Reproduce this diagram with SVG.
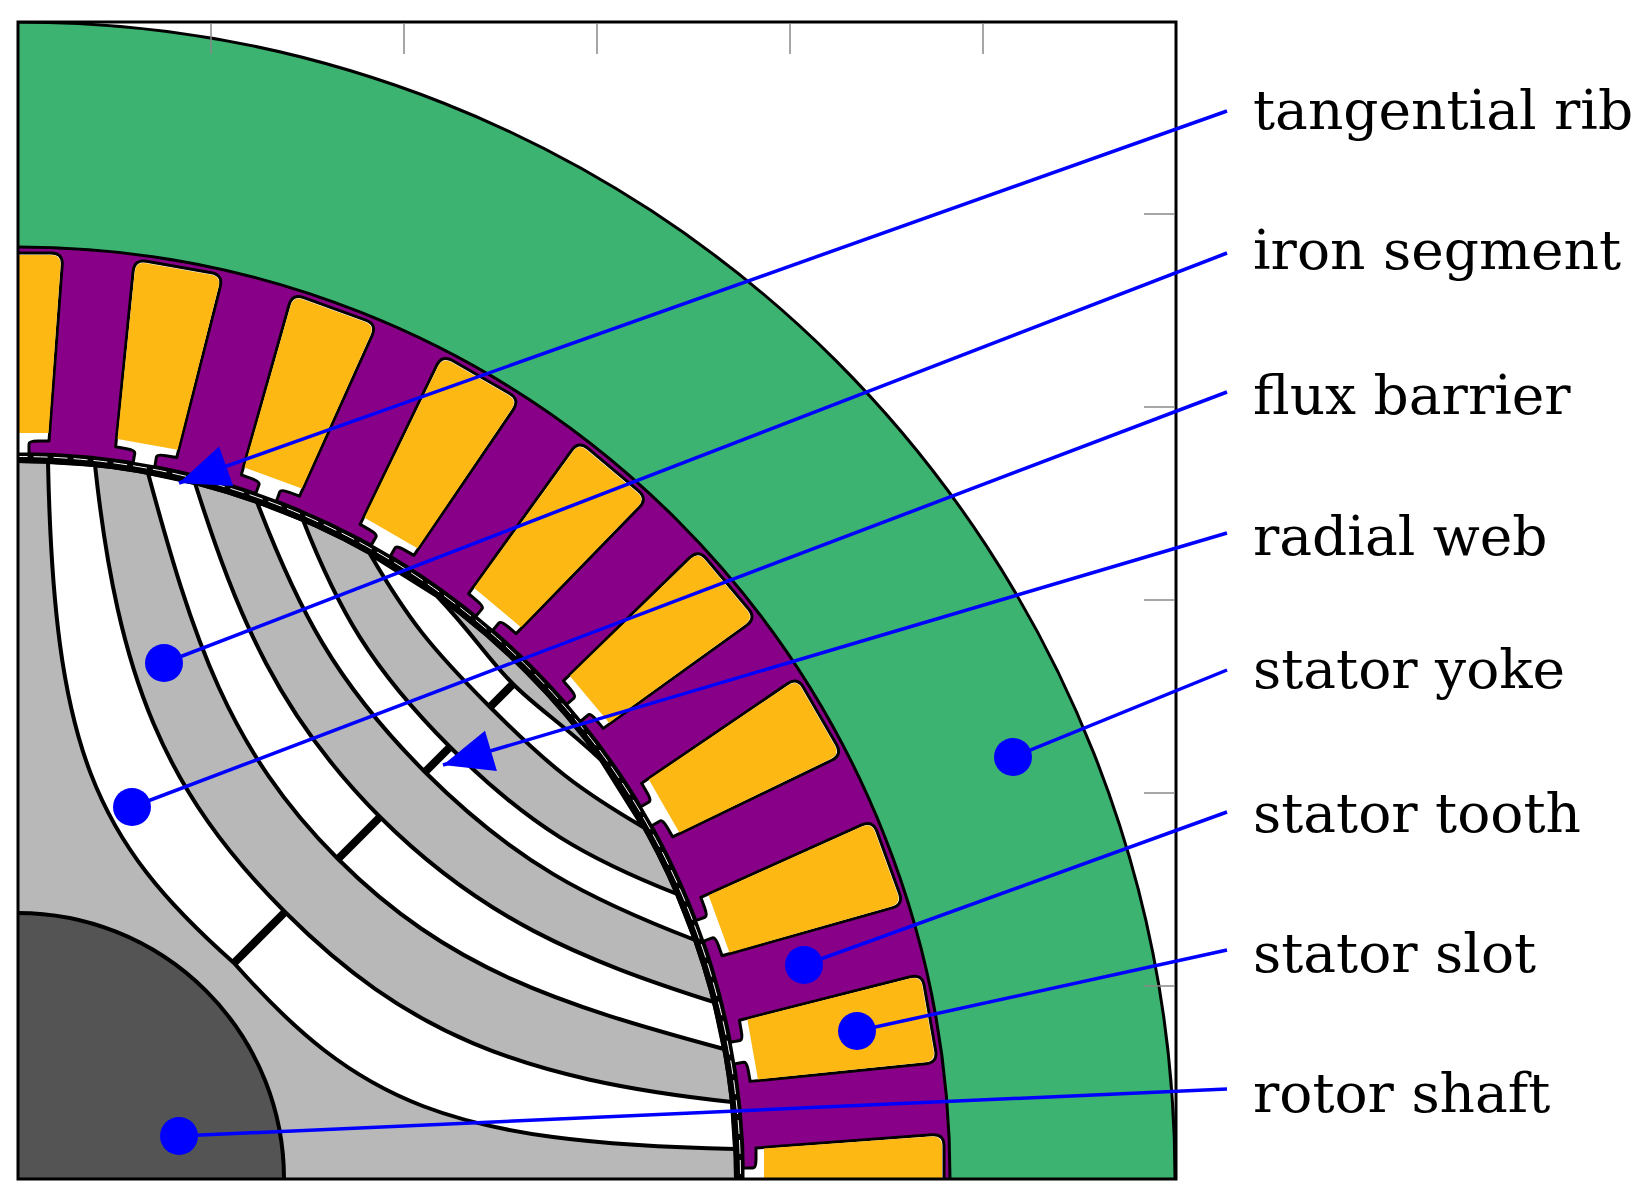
<svg xmlns="http://www.w3.org/2000/svg" width="1646" height="1202" viewBox="0 0 1646 1202">
<style>
.lbl{font-family:"DejaVu Serif","Liberation Serif",serif;font-size:55px;fill:#000}
.ld{stroke:#0000ff;stroke-width:3.5;fill:none}
.dot{fill:#0000ff}
.bar{fill:#fff;stroke:#000;stroke-width:4;stroke-linejoin:round}
.web{stroke:#000;stroke-width:8}
.tick{stroke:#888;stroke-width:1.5}
</style>
<defs>
<clipPath id="box"><rect x="18" y="22" width="1158" height="1157"/></clipPath>
<marker id="arr" markerUnits="userSpaceOnUse" markerWidth="60" markerHeight="60" viewBox="-55 -30 60 60" refX="0" refY="0" orient="auto">
<path d="M0,0 L-50,-21 L-50,21 Z" fill="#0000ff"/>
</marker>
<g id="slot">
<path d="M725,-11 L735,-11 Q738,-11 738,-20 L738,-31 L914,-44.2 Q926,-45 926,-33 L926,33 Q926,45 914,44.2 L738,31 L738,20 Q738,11 735,11 L725,11 Z" fill="#fff" stroke="#000" stroke-width="3" stroke-linejoin="round"/>
<path d="M746,-30.5 L913,-42.5 Q924,-43.5 924,-33 L924,33 Q924,43.5 913,42.5 L746,30.5 Z" fill="#fdb813"/>
</g>
</defs>
<g clip-path="url(#box)">
<g id="stator_yoke"><circle cx="18" cy="1179" r="1157" fill="#3cb371" stroke="#000" stroke-width="3"/></g>
<g id="stator_teeth"><circle cx="18" cy="1179" r="932" fill="#880088" stroke="#000" stroke-width="3"/>
<circle cx="18" cy="1179" r="727" fill="#000"/>
<circle cx="18" cy="1179" r="722.5" fill="none" stroke="#fff" stroke-width="1" stroke-dasharray="14 6"/></g>
<g id="stator_slots">
<use href="#slot" transform="translate(18 1179) rotate(0)"/>
<use href="#slot" transform="translate(18 1179) rotate(-10)"/>
<use href="#slot" transform="translate(18 1179) rotate(-20)"/>
<use href="#slot" transform="translate(18 1179) rotate(-30)"/>
<use href="#slot" transform="translate(18 1179) rotate(-40)"/>
<use href="#slot" transform="translate(18 1179) rotate(-50)"/>
<use href="#slot" transform="translate(18 1179) rotate(-60)"/>
<use href="#slot" transform="translate(18 1179) rotate(-70)"/>
<use href="#slot" transform="translate(18 1179) rotate(-80)"/>
<use href="#slot" transform="translate(18 1179) rotate(-90)"/>
</g>
<g id="rotor" transform="translate(18 1179) scale(1 -1)">
<circle cx="0" cy="0" r="718" fill="#b8b8b8" stroke="#000" stroke-width="4"/>
<path class="bar" d="M30,717 C36,430 76,340 216,216 C340,76 430,36 717,30 L714,77 C500,100 387,147 267,267 C147,387 100,500 77,714 Z"/>
<path class="bar" d="M130,706 C175,540 210,430 320,320 C430,210 540,175 706,130 L696,177 C560,220 462,262 362,362 C262,462 220,560 177,696 Z"/>
<path class="bar" d="M239,677 C280,570 317,497 407,407 C497,317 570,280 677,239 L659,285 C570,320 512,352 432,432 C352,512 320,570 285,659 Z"/>
<path class="bar" d="M352,625 C390,560 412,532 472,472 C532,412 560,390 625,352 L583,419 C545,455 520,470 495,495 C470,520 455,545 419,583 Z"/>
<circle cx="0" cy="0" r="718" fill="none" stroke="#000" stroke-width="4"/>
<line class="web" x1="216" y1="216" x2="267" y2="267"/>
<line class="web" x1="320" y1="320" x2="362" y2="362"/>
<line class="web" x1="407" y1="407" x2="432" y2="432"/>
<line class="web" x1="472" y1="472" x2="495" y2="495"/>
<circle id="shaft" cx="0" cy="0" r="266" fill="#545454" stroke="#000" stroke-width="4"/>
</g>
</g>
<g id="frame">
<rect x="18" y="22" width="1158" height="1157" fill="none" stroke="#000" stroke-width="3"/>
<line class="tick" x1="211" y1="23" x2="211" y2="54"/>
<line class="tick" x1="404" y1="23" x2="404" y2="54"/>
<line class="tick" x1="597" y1="23" x2="597" y2="54"/>
<line class="tick" x1="790" y1="23" x2="790" y2="54"/>
<line class="tick" x1="983" y1="23" x2="983" y2="54"/>
<line class="tick" x1="1144" y1="986" x2="1175" y2="986"/>
<line class="tick" x1="1144" y1="793" x2="1175" y2="793"/>
<line class="tick" x1="1144" y1="600" x2="1175" y2="600"/>
<line class="tick" x1="1144" y1="407" x2="1175" y2="407"/>
<line class="tick" x1="1144" y1="214" x2="1175" y2="214"/>
</g>
<g id="connectors">
<line class="ld" x1="1227" y1="111" x2="179" y2="483" marker-end="url(#arr)"/>
<line class="ld" x1="1227" y1="253" x2="164" y2="663"/>
<line class="ld" x1="1227" y1="392" x2="132" y2="807"/>
<line class="ld" x1="1227" y1="533" x2="443" y2="765" marker-end="url(#arr)"/>
<line class="ld" x1="1227" y1="670" x2="1013" y2="757"/>
<line class="ld" x1="1227" y1="812" x2="804" y2="965"/>
<line class="ld" x1="1227" y1="950" x2="857" y2="1031"/>
<line class="ld" x1="1227" y1="1089" x2="179" y2="1136"/>
<circle class="dot" cx="164" cy="663" r="19"/>
<circle class="dot" cx="132" cy="807" r="19"/>
<circle class="dot" cx="1013" cy="757" r="19"/>
<circle class="dot" cx="804" cy="965" r="19"/>
<circle class="dot" cx="857" cy="1031" r="19"/>
<circle class="dot" cx="179" cy="1136" r="19"/>
</g>
<g id="labels">
<text class="lbl" x="1253" y="129">tangential rib</text>
<text class="lbl" x="1253" y="269">iron segment</text>
<text class="lbl" x="1253" y="414">flux barrier</text>
<text class="lbl" x="1253" y="555">radial web</text>
<text class="lbl" x="1253" y="688">stator yoke</text>
<text class="lbl" x="1253" y="832">stator tooth</text>
<text class="lbl" x="1253" y="972">stator slot</text>
<text class="lbl" x="1253" y="1112">rotor shaft</text>
</g>
</svg>
